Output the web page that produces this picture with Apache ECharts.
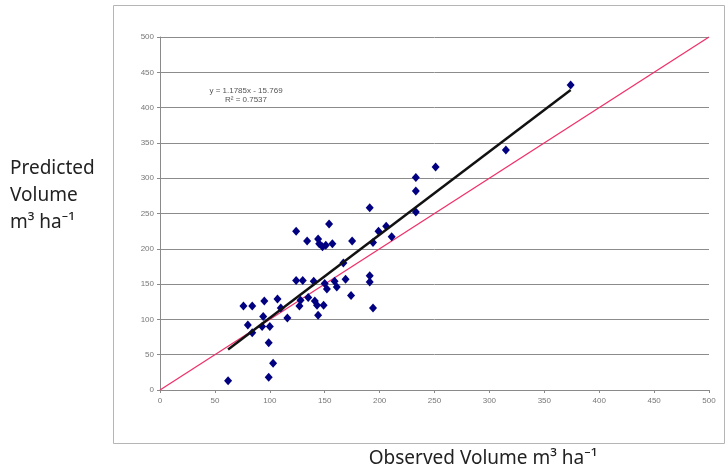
<!DOCTYPE html>
<html>
<head>
<meta charset="utf-8">
<script src="https://cdn.jsdelivr.net/npm/echarts@6/dist/echarts.min.js"></script>
<style>html,body{margin:0;padding:0;background:#fff}#c{width:728px;height:472px}</style>
</head>
<body>
<div id="c"></div>
<script>
var observed = [62,76,84,95,107,94,80,84,93,100,99,103,99,110,116,124,124,130,140,150,159,152,161,169,191,191,174,135,128,127,141,143,149,144,194,154,134,144,145,148,151,157,175,199,206,194,211,167,191,233,233,233,251,315,374];
var predicted = [13,119,119,126,129,104,92,81,90,90,67,38,18,116,102,225,155,155,154,151,154,143,146,157,162,153,134,131,127,119,126,120,120,106,116,235,211,214,207,203,205,207,211,225,232,209,217,180,258,301,282,252,316,340,432];
var axisTicks = [0,50,100,150,200,250,300,350,400,450,500];
var slope = 1.1785, intercept = -15.769;
var fitRange = [62, 374];
var oneToOne = [0, 500];

var points = observed.map(function(x,i){return [x, predicted[i]];});
var fitLine = fitRange.map(function(x){return [x, slope*x+intercept];});
var refLine = oneToOne.map(function(v){return [v, v];});

var chart = echarts.init(document.getElementById('c'), null, {renderer:'canvas'});
var axisCommon = {
  type:'value', min:axisTicks[0], max:axisTicks[axisTicks.length-1], interval:50,
  axisLine:{show:true, onZero:false, lineStyle:{color:'#8a8a8a', width:1}},
  axisTick:{show:true, length:3, lineStyle:{color:'#8a8a8a'}},
  axisLabel:{color:'#777', fontSize:8, fontFamily:'Liberation Sans, Arial'}
};
chart.setOption({
  animation:false,
  grid:{left:160, right:19, top:37, bottom:82},
  xAxis: Object.assign({}, axisCommon, {splitLine:{show:false}, axisLabel:Object.assign({}, axisCommon.axisLabel, {margin:7})}),
  yAxis: Object.assign({}, axisCommon, {splitLine:{show:true, lineStyle:{color:'#8c8c8c', width:1}}, axisLabel:Object.assign({}, axisCommon.axisLabel, {margin:6})}),
  series:[
    {type:'line', data:refLine, symbol:'none', lineStyle:{color:'#f0306a', width:1.3}, z:2},
    {type:'scatter', data:points, symbol:'diamond', symbolSize:[8,9], itemStyle:{color:'#000080', opacity:1}, z:3},
    {type:'line', data:fitLine, symbol:'none', lineStyle:{color:'#111', width:2.5}, z:4}
  ],
  graphic:[
    {type:'rect', shape:{x:113.5, y:5.5, width:611, height:438}, style:{fill:'none', stroke:'#b5b5b5', lineWidth:1}, silent:true, z:-1},
    {type:'text', x:246, y:87, style:{text:'y = 1.1785x - 15.769', font:'8px "Liberation Sans", Arial', fill:'#555', textAlign:'center'}},
    {type:'text', x:246, y:96, style:{text:'R² = 0.7537', font:'8px "Liberation Sans", Arial', fill:'#555', textAlign:'center'}},
    {type:'text', x:10, y:155, style:{text:'Predicted\nVolume\nm³ ha⁻¹', font:'19px "Noto Sans"', lineHeight:27, fill:'#222'}},
    {type:'text', x:483, y:449, style:{text:'Observed Volume m³ ha⁻¹', font:'19px "Noto Sans"', fill:'#222', textAlign:'center'}}
  ]
});
</script>
</body>
</html>
